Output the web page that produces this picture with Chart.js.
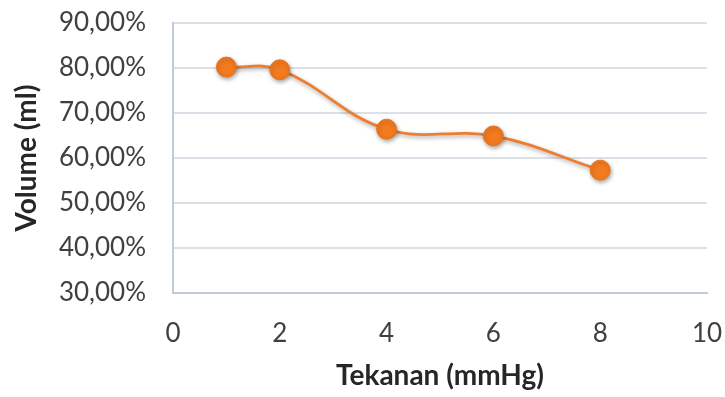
<!DOCTYPE html>
<html>
<head>
<meta charset="utf-8">
<script src="https://cdn.jsdelivr.net/npm/chart.js@4/dist/chart.umd.min.js"></script>
<style>
  html, body { margin: 0; padding: 0; background: #ffffff; }
  #wrap { width: 725px; height: 397px; }
</style>
</head>
<body>
<div id="wrap"><canvas id="c" width="725" height="397"></canvas></div>
<script>
// Pressure (mmHg) and measured volume (%)
const pressure = [1, 2, 4, 6, 8];
const volume = [80.2, 79.6, 66.4, 64.9, 57.3];
const xTicks = [0, 2, 4, 6, 8, 10];
const yTicks = [30, 40, 50, 60, 70, 80, 90];

const lineOrange = '#EE7D2F';
const markerOrange = '#F27A1F';
const textColor = '#404040';
const titleColor = '#262626';

// soft drop shadow under the series, like office-style markers
const shadowPlugin = {
  id: 'seriesShadow',
  beforeDatasetDraw(chart) {
    const ctx = chart.ctx;
    ctx.save();
    ctx.shadowColor = 'rgba(0,0,0,0.35)';
    ctx.shadowBlur = 4;
    ctx.shadowOffsetX = 1;
    ctx.shadowOffsetY = 2;
  },
  afterDatasetDraw(chart) {
    chart.ctx.restore();
  }
};

new Chart(document.getElementById('c'), {
  type: 'line',
  data: {
    datasets: [{
      data: pressure.map((p, i) => ({ x: p, y: volume[i] })),
      borderColor: lineOrange,
      backgroundColor: markerOrange,
      borderWidth: 2.75,
      pointRadius: 10,
      pointHoverRadius: 10,
      pointBackgroundColor: markerOrange,
      pointBorderColor: '#EC731C',
      pointBorderWidth: 1,
      tension: 0.4,
      fill: false
    }]
  },
  options: {
    responsive: false,
    animation: false,
    events: [],
    layout: { padding: { top: 23, right: 18, bottom: 0, left: 0 } },
    plugins: { legend: { display: false }, tooltip: { enabled: false } },
    scales: {
      x: {
        type: 'linear',
        min: xTicks[0],
        max: xTicks[xTicks.length - 1],
        afterBuildTicks(scale) { scale.ticks = xTicks.map(v => ({ value: v })); },
        afterFit(scale) {
          scale.height = 104;
          scale.paddingLeft = 0;
          scale.paddingRight = 0;
        },
        grid: { display: false, drawTicks: false },
        border: { display: true, color: '#C0CADA', width: 2 },
        ticks: {
          padding: 25,
          color: textColor,
          font: { family: 'Lato', size: 26 },
          maxRotation: 0,
          autoSkip: false
        },
        title: {
          display: true,
          text: 'Tekanan (mmHg)',
          color: titleColor,
          font: { family: 'Lato', size: 28, weight: 'bold' },
          padding: { top: 0, bottom: 4 }
        }
      },
      y: {
        min: yTicks[0],
        max: yTicks[yTicks.length - 1],
        afterBuildTicks(scale) { scale.ticks = yTicks.map(v => ({ value: v })); },
        afterFit(scale) {
          scale.width = 173;
          scale.paddingTop = 0;
          scale.paddingBottom = 0;
        },
        grid: { color: '#DCE1E9', lineWidth: 2, drawTicks: false },
        border: { display: true, color: '#C0CADA', width: 2 },
        ticks: {
          padding: 27,
          color: textColor,
          font: { family: 'Lato', size: 26 },
          callback: v => v.toFixed(2).replace('.', ',') + '%'
        },
        title: {
          display: true,
          text: 'Volume (ml)',
          color: titleColor,
          font: { family: 'Lato', size: 28, weight: 'bold' },
          padding: { top: 10, bottom: 0 }
        }
      }
    }
  },
  plugins: [shadowPlugin]
});
</script>
</body>
</html>
